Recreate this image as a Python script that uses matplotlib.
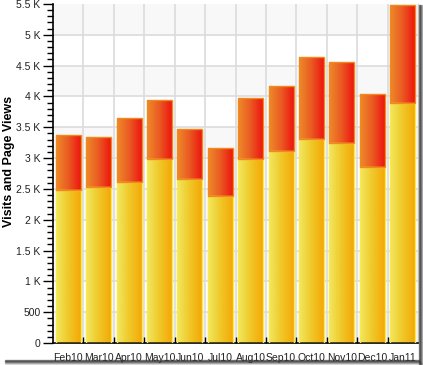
import numpy as np
import matplotlib
matplotlib.use("Agg")
import matplotlib.pyplot as plt
from matplotlib.colors import LinearSegmentedColormap
from matplotlib.patches import Rectangle

months = ["Feb10", "Mar10", "Apr10", "May10", "Jun10", "Jul10",
          "Aug10", "Sep10", "Oct10", "Nov10", "Dec10", "Jan11"]
visits = [2477, 2531, 2607, 2980, 2661, 2385, 2980, 3115, 3310, 3245, 2855, 3894]
totals = [3375, 3342, 3650, 3942, 3472, 3164, 3975, 4170, 4640, 4559, 4035, 5484]
page_views = [t - v for t, v in zip(totals, visits)]
ytick_vals = [0, 500, 1000, 1500, 2000, 2500, 3000, 3500, 4000, 4500, 5000, 5500]
ytick_labels = ["0", "500", "1 K", "1.5 K", "2 K", "2.5 K", "3 K", "3.5 K",
                "4 K", "4.5 K", "5 K", "5.5 K"]

plt.rcParams['font.family'] = ['Liberation Sans', 'DejaVu Sans']

W, H = 423, 365
fig = plt.figure(figsize=(W / 100, H / 100), dpi=100)
fig.patch.set_facecolor('white')

# drop shadow
for i, a in enumerate([0.55, 0.35, 0.2, 0.1]):
    fig.patches.append(Rectangle(((419 + i) / W, 0), 1 / W, 1 - 5 / H,
                                 transform=fig.transFigure, color='#333333',
                                 alpha=a, zorder=0))
    fig.patches.append(Rectangle((5 / W, (4 - i) / H), (414 + i) / W, 1 / H,
                                 transform=fig.transFigure, color='#333333',
                                 alpha=a, zorder=0))

ax = fig.add_axes([53 / W, 22 / H, (418 - 53) / W, (343 - 4) / H])
ax.set_facecolor('white')

n = len(months)
x = np.arange(n)
ax.set_xlim(-0.5, n - 0.5)
ax.set_ylim(0, 5500)

# alternating bands
for lo in range(0, 5500, 1000):
    ax.axhspan(lo, lo + 500, color='#f8f8f8', zorder=0, lw=0)
for v in ytick_vals[1:-1]:
    ax.axhline(v, color='#dcdcdc', lw=1.2, zorder=0.5)
for b in np.arange(0.5, n - 0.5, 1):
    ax.axvline(b, color='#dcdcdc', lw=1.2, zorder=0.5)

yellow_cmap = LinearSegmentedColormap.from_list('y', ['#f0e860', '#f0c828', '#f4a808'])
red_cmap = LinearSegmentedColormap.from_list('r', ['#ee8a2a', '#ea5a22', '#ee1610'])
grad = np.linspace(0, 1, 64).reshape(1, -1)

bw = 0.82
b1 = ax.bar(x, visits, width=bw, facecolor='none', edgecolor='#fbe84a', lw=1.0, zorder=3)
b2 = ax.bar(x, page_views, bottom=visits, width=bw, facecolor='none',
            edgecolor='#f08a1a', lw=1.0, zorder=3)

for bars, cmap in ((b1, yellow_cmap), (b2, red_cmap)):
    for p in bars:
        x0, y0 = p.get_x(), p.get_y()
        w, h = p.get_width(), p.get_height()
        im = ax.imshow(grad, cmap=cmap, aspect='auto',
                       extent=(x0, x0 + w, y0, y0 + h), zorder=2,
                       interpolation='bilinear')
        im.set_clip_path(p)

ax.set_xlim(-0.5, n - 0.5)
ax.set_ylim(0, 5500)

ax.set_yticks(ytick_vals)
ax.set_yticklabels(ytick_labels, fontsize=7.5, color='#222222')
ax.set_yticks(np.arange(0, 5501, 100), minor=True)
ax.tick_params(axis='y', which='major', length=7, width=1, direction='out', pad=2)
ax.tick_params(axis='y', which='minor', length=4, width=1, direction='out')

ax.set_xticks(x)
ax.set_xticklabels(months, fontsize=7.5, color='#222222')
ax.set_xticks(np.arange(0.5, n - 0.5, 1), minor=True)
ax.tick_params(axis='x', which='major', length=0, pad=7)
ax.tick_params(axis='x', which='minor', length=4, width=1, direction='in')

for s in ['left', 'bottom']:
    ax.spines[s].set_linewidth(1.2)
    ax.spines[s].set_color('black')
ax.spines['top'].set_visible(False)
ax.spines['right'].set_linewidth(1.0)
ax.spines['right'].set_color('#cccccc')

ax.set_ylabel("Visits and Page Views", fontsize=9, fontweight='bold')
ax.yaxis.set_label_coords(-38 / 365, 0.535)

fig.savefig("out.png", dpi=100)
